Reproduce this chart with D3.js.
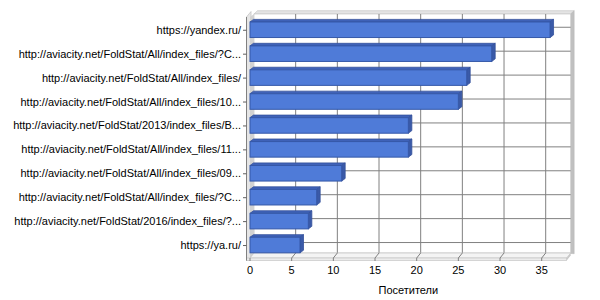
<!DOCTYPE html>
<html><head><meta charset="utf-8">
<script src="https://cdn.jsdelivr.net/npm/d3@7"></script>
<style>body{margin:0;background:#fff}svg{display:block}text{font-family:"Liberation Sans",Arial,sans-serif;font-size:11px;fill:#000}</style>
</head><body><svg id="c" width="600" height="300"></svg>
<script>
const categories = [
  "https://yandex.ru/",
  "http://aviacity.net/FoldStat/All/index_files/?C...",
  "http://aviacity.net/FoldStat/All/index_files/",
  "http://aviacity.net/FoldStat/All/index_files/10...",
  "http://aviacity.net/FoldStat/2013/index_files/B...",
  "http://aviacity.net/FoldStat/All/index_files/11...",
  "http://aviacity.net/FoldStat/All/index_files/09...",
  "http://aviacity.net/FoldStat/All/index_files/?C...",
  "http://aviacity.net/FoldStat/2016/index_files/?...",
  "https://ya.ru/"
];
const visitors = [36, 29, 26, 25, 19, 19, 11, 8, 7, 6];
const xTicks = [0, 5, 10, 15, 20, 25, 30, 35];
const axisTitle = "Посетители";

const svg = d3.select("#c");
const x = d3.scaleLinear().domain([0, 38]).range([250, 566.7]);
const y = d3.scaleBand().domain(d3.range(categories.length)).range([17.8, 257]).paddingInner(0.35).paddingOuter(0.175);
const DX = 4, DY = -5;       // wall depth
const BX = 3.5, BY = -2.6;   // bar depth
const yTop = 16, yBot = 258;
const cy = i => y(i) + y.bandwidth() / 2;

const pts = a => a.map(p => p.join(",")).join(" ");

// back wall top & right thickness
const bx0 = x(0) + DX, bx1 = x(38) + DX, by0 = yTop + DY + 3, by1 = yBot + DY;
svg.append("polygon").attr("points", pts([[bx0, by0], [bx1, by0], [bx1 + 3.5, by0 - 3.3], [bx0 + 3.5, by0 - 3.3]]))
  .attr("fill", "#e4e4e4").attr("stroke", "#c8c8c8").attr("stroke-width", 0.7);
svg.append("polygon").attr("points", pts([[bx1, by0], [bx1 + 3.5, by0 - 3.3], [bx1 + 3.5, by1 - 3.3 + 4], [bx1, by1 + 0.5]]))
  .attr("fill", "#c0c0c0").attr("stroke", "#b8b8b8").attr("stroke-width", 0.5);
// back wall face
svg.append("rect").attr("x", bx0).attr("y", by0).attr("width", bx1 - bx0).attr("height", by1 - by0)
  .attr("fill", "#fff").attr("stroke", "#c8c8c8").attr("stroke-width", 0.7);

// gridlines on back wall
svg.selectAll(".gv").data(xTicks.slice(1)).join("line")
  .attr("x1", d => x(d) + DX).attr("x2", d => x(d) + DX).attr("y1", by0).attr("y2", by1)
  .attr("stroke", "#808080").attr("stroke-width", 1);
svg.selectAll(".gh").data(d3.range(categories.length)).join("line")
  .attr("x1", bx0).attr("x2", bx1).attr("y1", i => cy(i) - 2.5).attr("y2", i => cy(i) - 2.5)
  .attr("stroke", "#808080").attr("stroke-width", 1);

// left wall
svg.append("polygon").attr("points", pts([[246.5, yTop + 1], [246.5 + DX + 0.5, yTop + DY + 0.5], [bx0, by1], [250, yBot + 2.5], [246.5, yBot + 2.5]]))
  .attr("fill", "#e6e6e6").attr("stroke", "#c0c0c0").attr("stroke-width", 0.7);
svg.append("polygon").attr("points", pts([[250, yTop + 1], [bx0, by0], [bx0, by1], [250, yBot]]))
  .attr("fill", "#d2d2d2");

// floor
svg.append("polygon").attr("points", pts([[250, yBot], [x(38), yBot], [bx1, by1], [bx0, by1]]))
  .attr("fill", "#f4f4f4").attr("stroke", "#c0c0c0").attr("stroke-width", 0.7);
svg.append("rect").attr("x", 246.5).attr("y", yBot).attr("width", x(38) - 246.5).attr("height", 2.6)
  .attr("fill", "#ececec").attr("stroke", "#c0c0c0").attr("stroke-width", 0.6);
svg.append("polygon").attr("points", pts([[x(38), yBot], [bx1, by1], [bx1, by1 + 2.6], [x(38), yBot + 2.6]]))
  .attr("fill", "#c8c8c8");
// floor gridlines + ticks
svg.selectAll(".gf").data(xTicks.slice(1)).join("line")
  .attr("x1", d => x(d) + DX).attr("y1", by1).attr("x2", d => x(d)).attr("y2", yBot)
  .attr("stroke", "#808080");
svg.selectAll(".tk").data(xTicks).join("line")
  .attr("x1", d => x(d)).attr("x2", d => x(d)).attr("y1", yBot).attr("y2", yBot + 3)
  .attr("stroke", "#808080");

// category axis line + ticks
svg.append("line").attr("x1", 246.5).attr("x2", 246.5).attr("y1", yTop + 1).attr("y2", yBot + 2.6).attr("stroke", "#808080");
svg.selectAll(".ct").data(d3.range(categories.length)).join("line")
  .attr("x1", 243).attr("x2", 246.5).attr("y1", i => cy(i) + 0.5).attr("y2", i => cy(i) + 0.5).attr("stroke", "#606060");

// bars
const g = svg.append("g");
visitors.forEach((v, i) => {
  const x0 = x(0), x1 = x(v), t = y(i), b = y(i) + y.bandwidth();
  g.append("polygon").attr("points", pts([[x0, t], [x1, t], [x1 + BX, t + BY], [x0 + BX, t + BY]]))
    .attr("fill", "#3f62b8").attr("stroke", "#33519c").attr("stroke-width", 0.8);
  g.append("polygon").attr("points", pts([[x1, t], [x1 + BX, t + BY], [x1 + BX, b + BY], [x1, b]]))
    .attr("fill", "#3a5aa8").attr("stroke", "#33519c").attr("stroke-width", 0.8);
  g.append("rect").attr("x", x0).attr("y", t).attr("width", x1 - x0).attr("height", b - t)
    .attr("fill", "#4f7bd8").attr("stroke", "#3558a8").attr("stroke-width", 1);
});

// labels
svg.selectAll(".cl").data(categories).join("text")
  .attr("x", 241).attr("y", (d, i) => cy(i) + 4).attr("text-anchor", "end").text(d => d);
svg.selectAll(".xl").data(xTicks).join("text")
  .attr("x", d => x(d)).attr("y", 274).attr("text-anchor", "middle").text(d => d);
svg.append("text").attr("x", (x(0) + x(38)) / 2).attr("y", 294).attr("text-anchor", "middle").text(axisTitle);
</script></body></html>
